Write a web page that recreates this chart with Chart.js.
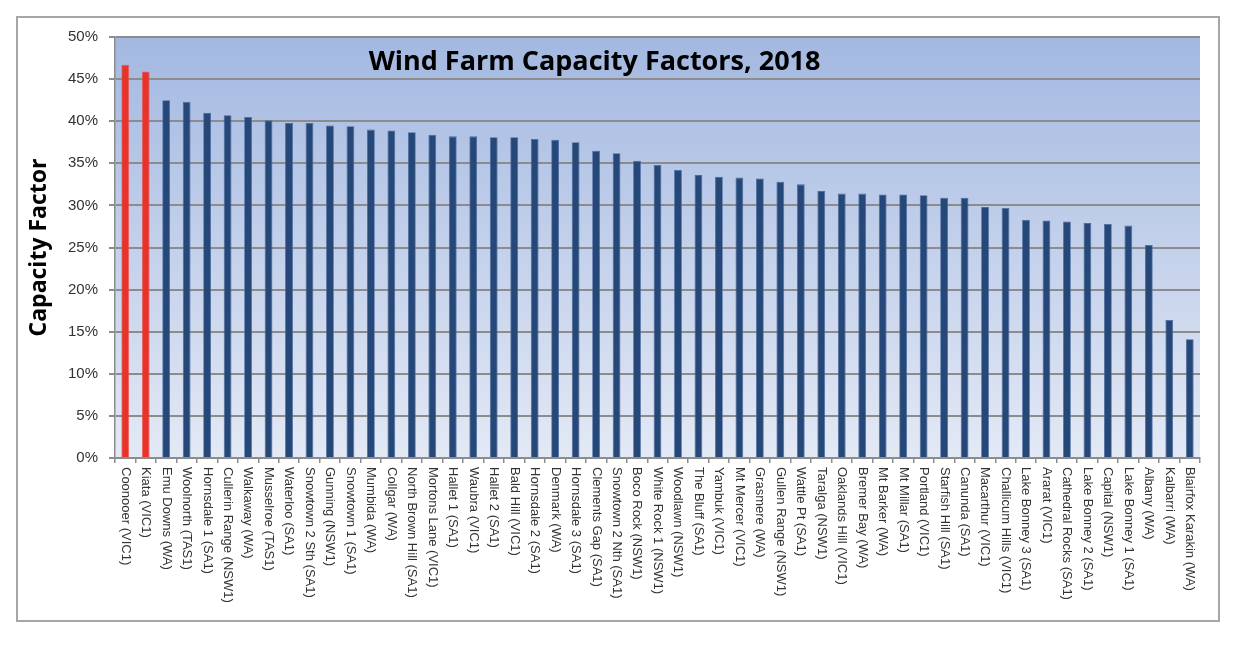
<!DOCTYPE html>
<html>
<head>
<meta charset="utf-8">
<script src="https://cdn.jsdelivr.net/npm/chart.js@4/dist/chart.umd.min.js"></script>
<style>
  html, body { margin: 0; padding: 0; background: #ffffff; }
  #wrap { position: relative; width: 1254px; height: 648px; }
  #frame { position: absolute; left: 16px; top: 16px; width: 1200px; height: 602px; border: 2px solid #a6a6a6; pointer-events: none; }
  canvas { position: absolute; left: 0; top: 0; }
</style>
</head>
<body>
<div id="wrap">
  <canvas id="c" width="1254" height="648"></canvas>
  <div id="frame"></div>
</div>
<script>
const chartTitle = 'Wind Farm Capacity Factors, 2018';
const yAxisTitle = 'Capacity Factor';

const farms = [
  'Coonooer (VIC1)', 'Kiata (VIC1)', 'Emu Downs (WA)', 'Woolnorth (TAS1)', 'Hornsdale 1 (SA1)',
  'Cullerin Range (NSW1)', 'Walkaway (WA)', 'Musselroe (TAS1)', 'Waterloo (SA1)', 'Snowtown 2 Sth (SA1)',
  'Gunning (NSW1)', 'Snowtown 1 (SA1)', 'Mumbida (WA)', 'Collgar (WA)', 'North Brown Hill (SA1)',
  'Mortons Lane (VIC1)', 'Hallet 1 (SA1)', 'Waubra (VIC1)', 'Hallet 2 (SA1)', 'Bald Hill (VIC1)',
  'Hornsdale 2 (SA1)', 'Denmark (WA)', 'Hornsdale 3 (SA1)', 'Clements Gap (SA1)', 'Snowtown 2 Nth (SA1)',
  'Boco Rock (NSW1)', 'White Rock 1 (NSW1)', 'Woodlawn (NSW1)', 'The Bluff (SA1)', 'Yambuk (VIC1)',
  'Mt Mercer (VIC1)', 'Grasmere (WA)', 'Gullen Range (NSW1)', 'Wattle Pt (SA1)', 'Taralga (NSW1)',
  'Oaklands Hill (VIC1)', 'Bremer Bay (WA)', 'Mt Barker (WA)', 'Mt Millar (SA1)', 'Portland (VIC1)',
  'Starfish Hill (SA1)', 'Canunda (SA1)', 'Macarthur (VIC1)', 'Challicum Hills (VIC1)', 'Lake Bonney 3 (SA1)',
  'Ararat (VIC1)', 'Cathedral Rocks (SA1)', 'Lake Bonney 2 (SA1)', 'Capital (NSW1)', 'Lake Bonney 1 (SA1)',
  'Albany (WA)', 'Kalbarri (WA)', 'Blairfox Karakin (WA)'
];

const capacityFactor = [
  46.7, 45.9, 42.5, 42.3, 41.0,
  40.7, 40.5, 40.1, 39.8, 39.8,
  39.5, 39.4, 39.0, 38.9, 38.7,
  38.4, 38.2, 38.2, 38.1, 38.1,
  37.9, 37.8, 37.5, 36.5, 36.2,
  35.3, 34.8, 34.2, 33.6, 33.4,
  33.3, 33.2, 32.8, 32.5, 31.7,
  31.4, 31.4, 31.3, 31.3, 31.2,
  30.9, 30.9, 29.8, 29.7, 28.3,
  28.2, 28.1, 27.9, 27.8, 27.6,
  25.3, 16.4, 14.1
];

const highlighted = ['Coonooer (VIC1)', 'Kiata (VIC1)'];

const yTickValues = [0, 5, 10, 15, 20, 25, 30, 35, 40, 45, 50];

const NAVY = '#264878';
const RED = '#e8322a';

const bgPlugin = {
  id: 'bgGradient',
  beforeDraw(chart) {
    const { ctx, chartArea: a } = chart;
    const g = ctx.createLinearGradient(0, a.top, 0, a.bottom);
    g.addColorStop(0, '#a3b8e1');
    g.addColorStop(1, '#e3e9f5');
    ctx.save();
    ctx.fillStyle = g;
    ctx.fillRect(a.left, a.top, a.right - a.left, a.bottom - a.top);
    ctx.restore();
  }
};

const overlayPlugin = {
  id: 'overlayText',
  afterDraw(chart) {
    const { ctx, chartArea: a } = chart;
    const xs = chart.scales.x;
    ctx.save();
    // in-plot title
    ctx.font = 'bold 27px "Open Sans", "Liberation Sans", sans-serif';
    ctx.fillStyle = '#000000';
    ctx.textAlign = 'center';
    ctx.textBaseline = 'middle';
    ctx.fillText(chartTitle, a.left + (a.right - a.left) * 0.442, a.top + 25);
    // x labels, rotated clockwise
    ctx.font = '13px "Liberation Sans", Arial, sans-serif';
    ctx.fillStyle = '#333333';
    ctx.textAlign = 'left';
    ctx.textBaseline = 'middle';
    farms.forEach((name, i) => {
      const x = xs.getPixelForValue(i);
      ctx.save();
      ctx.translate(x, a.bottom + 9);
      ctx.rotate(Math.PI / 2);
      ctx.fillText(name, 0, 0);
      ctx.restore();
    });
    ctx.restore();
  }
};

new Chart(document.getElementById('c'), {
  type: 'bar',
  data: {
    labels: farms,
    datasets: [{
      label: yAxisTitle,
      data: capacityFactor,
      backgroundColor: (c) => highlighted.includes(farms[c.dataIndex]) ? RED : NAVY,
      borderColor: (c) => highlighted.includes(farms[c.dataIndex]) ? '#f05a50' : '#4a6aa0',
      borderWidth: 0.8,
      borderSkipped: 'bottom',
      barPercentage: 0.38,
      categoryPercentage: 1.0
    }]
  },
  options: {
    responsive: false,
    animation: false,
    devicePixelRatio: 1,
    layout: { padding: { left: 22, top: 37, right: 54, bottom: 0 } },
    plugins: {
      legend: { display: false },
      tooltip: { enabled: false },
      title: { display: false }
    },
    scales: {
      x: {
        afterFit(s) { s.height = 190; },
        grid: {
          display: true,
          drawOnChartArea: false,
          drawTicks: true,
          tickLength: 5,
          color: '#8c8c8c',
          lineWidth: 1.5,
          offset: true
        },
        border: { display: true, color: '#8c8c8c', width: 2 },
        ticks: { display: false }
      },
      y: {
        min: 0,
        max: 50,
        afterFit(s) { s.width = 93; },
        afterBuildTicks(s) { s.ticks = yTickValues.map(v => ({ value: v })); },
        grid: {
          color: '#8c8c8c',
          lineWidth: 2,
          drawTicks: true,
          tickLength: 6
        },
        border: { display: true, color: '#8c8c8c', width: 1.5 },
        ticks: {
          padding: 11,
          color: '#333333',
          font: { family: '"Liberation Sans", Arial, sans-serif', size: 15 },
          callback: (v) => v + '%'
        },
        title: {
          display: true,
          text: yAxisTitle,
          color: '#000000',
          padding: { top: 4, bottom: 4 },
          font: { family: '"Open Sans", "Liberation Sans", sans-serif', size: 23, weight: 'bold' }
        }
      }
    }
  },
  plugins: [bgPlugin, overlayPlugin]
});
</script>
</body>
</html>
